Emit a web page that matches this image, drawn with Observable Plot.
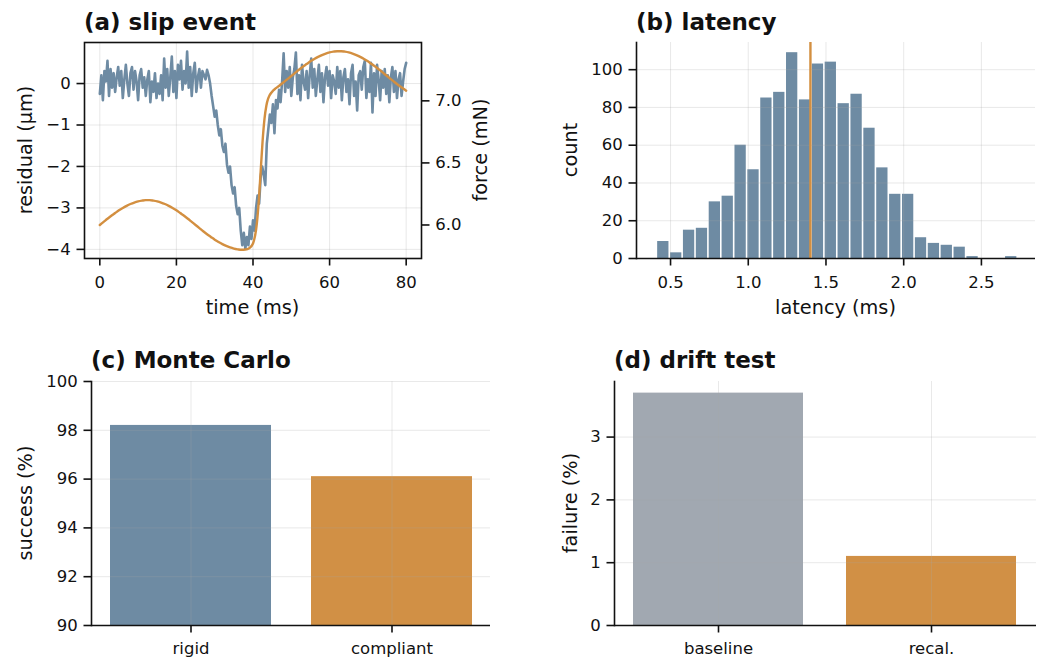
<!DOCTYPE html>
<html><head><meta charset="utf-8">
<script src="https://cdn.jsdelivr.net/npm/d3@7"></script>
<script src="https://cdn.jsdelivr.net/npm/@observablehq/plot@0.6"></script>
<style>
html,body{margin:0;padding:0;background:#fff;}
#fig{position:relative;width:1044px;height:657px;overflow:hidden;font-family:"DejaVu Sans",sans-serif;}
#fig svg{position:absolute;overflow:visible;}
</style></head><body><div id="fig"></div>
<script>
// ---------- data ----------
// (a) slip event: residual sampled every 0.4 ms from 0 ms
const residualStartMs = 0;
const residualStepMs = 0.4;
const residualUm = [
 -0.25, 0.2, -0.4, 0.3, 0.05, 0.55, -0.3, 0.35, -0.1, 0.25,
 -0.2, 0.15, 0.4, -0.05, 0.3, -0.35, 0.1, 0.45, 0.0, -0.3,
 0.25, 0.4, -0.15, 0.3, 0.05, -0.4, 0.2, 0.35, -0.1, 0.15,
 -0.3, 0.1, 0.3, -0.45, 0.05, -0.2, 0.25, -0.35, 0.0, -0.25,
 0.2, -0.4, 0.6, -0.1, 0.35, -0.3, 0.15, 0.65, -0.2, 0.3,
 -0.35, 0.45, 0.1, 0.55, -0.15, 0.3, 0.0, 0.77, -0.1, 0.4,
 -0.3, 0.25, 0.5, -0.2, 0.15, 0.35, -0.1, 0.3, 0.2, 0.1,
 0.33, 0.2,
 0.0, -0.3, -0.55, -0.8, -0.65, -1.0, -1.25, -1.1, -1.5, -1.65,
 -1.45, -1.95, -2.15, -2.0, -2.45, -2.65, -2.5, -2.95, -3.15, -3.0,
 -3.55, -3.9, -3.6, -3.98, -3.7, -3.9, -3.45, -3.75, -3.3, -3.55,
 -3.0, -2.7, -2.9, -2.25, -2.0, -2.2, -2.45, -1.45, -1.1, -0.75,
 -0.95, -0.5, -1.2, -0.4, -0.6, -0.15, -0.45, 0.05,
 0.73, -0.2, 0.3, -0.1, 0.4, -0.3, 0.15, 0.35, 0.75, -0.25,
 0.2, -0.4, 0.45, 0.05, -0.15, 0.3, -0.35, 0.2, 0.6, -0.1,
 0.35, -0.3, 0.1, 0.45, -0.2, 0.25, -0.45, 0.15, 0.4, -0.05,
 0.3, -0.35, 0.2, 0.05, -0.25, 0.4, -0.1, 0.3, -0.4, 0.15,
 0.35, -0.2, 0.1, -0.5, 0.25, 0.45, -0.3, 0.05, -0.65, 0.2,
 0.3, -0.15, 0.4, 0.55, -0.35, 0.1, -0.2, 0.5, -0.7, 0.25,
 -0.3, 0.45, 0.1, -0.4, 0.3, -0.1, 0.35, -0.25, 0.2, -0.45,
 0.15, 0.4, -0.2, 0.3, -0.35, 0.1, 0.25, -0.3, 0.05, 0.35,
 0.5
];
const forceTimeMs = [
 0,1,2,3,4,5,6,7,8,9,10,11,12,13,14,15,16,17,18,19,20,
 21,22,23,24,25,26,27,28,29,30,31,32,33,34,35,36,37,38,39,40,
 41,41.5,42,42.5,43,43.5,44,
 45,46,47,48,49,50,51,52,53,54,55,56,57,58,59,60,61,62,
 63,64,65,66,67,68,69,70,71,72,73,74,75,76,77,78,79,80
];
const forceMN = [
 6.000,6.025,6.050,6.074,6.096,6.118,6.137,6.154,6.169,6.181,6.190,
 6.196,6.200,6.200,6.196,6.190,6.181,6.169,6.154,6.137,6.118,
 6.096,6.074,6.050,6.025,6.000,5.975,5.950,5.926,5.904,5.882,
 5.863,5.846,5.831,5.819,5.810,5.804,5.800,5.802,5.812,5.851,
 6.010,6.189,6.431,6.674,6.855,6.963,7.022,
 7.074,7.102,7.126,7.150,7.175,7.200,7.225,7.250,7.274,7.296,7.318,
 7.337,7.354,7.369,7.381,7.390,7.396,7.400,
 7.400,7.396,7.390,7.381,7.369,7.354,7.337,7.318,7.296,7.274,7.250,
 7.225,7.200,7.175,7.150,7.126,7.104,7.082
];
const timeTicks = [0, 20, 40, 60, 80];
const residualTicks = [-4, -3, -2, -1, 0];
const forceTicks = [6.0, 6.5, 7.0];

// (b) latency histogram
const latencyBinStart = 0.412;
const latencyBinWidth = 0.0829;
const latencyCounts = [9,3,15,16,30,33,60,47,85,88,109,84,103,104,82,87,69,48,34,34,11,8,7,6,1,0,0,1];
const latencyMedian = 1.40;
const latencyTicks = [0.5, 1.0, 1.5, 2.0, 2.5];
const countTicks = [0, 20, 40, 60, 80, 100];

// (c) Monte Carlo
const mcCategories = ["rigid", "compliant"];
const mcSuccess = [98.2, 96.1];
const successTicks = [90, 92, 94, 96, 98, 100];

// (d) drift test
const driftCategories = ["baseline", "recal."];
const driftFailure = [3.7, 1.1];
const failureTicks = [0, 1, 2, 3];

// ---------- styles ----------
const SLATE = "#6e8ba3", ORANGE = "#d19045", LINE_ORANGE = "#d38f40", GRAY = "#a1a8b1";
const INK = "#111";
const baseStyle = {fontFamily: "'DejaVu Sans', sans-serif", fontSize: "16.5px", color: INK, background: "transparent", overflow: "visible"};
const grid = {stroke: "#a8a8a8", strokeOpacity: 0.25, strokeWidth: 1};
const axX = {tickSize: 7.5, tickPadding: 10.5, strokeWidth: 1.6, label: null};
const axXcat = {tickSize: 7.5, tickPadding: 9.5, strokeWidth: 1.6, label: null};
const axY = {tickSize: 7.5, tickPadding: 6.3, strokeWidth: 1.6, label: null};
const spine = {stroke: INK, strokeWidth: 1.6};
const intFmt = d3.format("~g");

const fig = document.getElementById("fig");
function place(svg, left, top) { svg.style.left = left + "px"; svg.style.top = top + "px"; fig.appendChild(svg); }

// ---------- (a) ----------
const residualRows = residualUm.map((v, i) => ({t: residualStartMs + i * residualStepMs, v}));
const forceRows = forceTimeMs.map((t, i) => ({t, f: forceMN[i]}));
const dimsA = {width: 522, height: 330, marginLeft: 84, marginRight: 101, marginTop: 42, marginBottom: 72};
place(Plot.plot({
  ...dimsA, style: baseStyle,
  x: {domain: [-4, 84]}, y: {domain: [-4.22, 0.99]},
  marks: [
    Plot.gridX({ticks: timeTicks, ...grid}),
    Plot.gridY({ticks: residualTicks, ...grid}),
    Plot.line(residualRows, {x: "t", y: "v", stroke: SLATE, strokeWidth: 2.6, strokeLinejoin: "round"}),
    Plot.axisX({ticks: timeTicks, tickFormat: intFmt, ...axX}),
    Plot.axisY({ticks: residualTicks, tickFormat: intFmt, ...axY})
  ]
}), 0, 0);
place(Plot.plot({
  ...dimsA, style: baseStyle,
  x: {domain: [-4, 84], axis: null}, y: {domain: [5.73, 7.47]},
  marks: [
    Plot.line(forceRows, {x: "t", y: "f", stroke: LINE_ORANGE, strokeWidth: 2.4, curve: "monotone-x"}),
    Plot.axisY({ticks: forceTicks, anchor: "right", tickFormat: ".1f", ...axY}),
    Plot.frame(spine)
  ]
}), 0, 0);

// ---------- (b) ----------
const latencyBins = latencyCounts.map((c, i) => ({
  x1: latencyBinStart + i * latencyBinWidth,
  x2: latencyBinStart + (i + 1) * latencyBinWidth,
  count: c
}));
place(Plot.plot({
  width: 522, height: 330, marginLeft: 114, marginRight: 9, marginTop: 42, marginBottom: 72,
  style: baseStyle,
  x: {domain: [0.281, 2.848]}, y: {domain: [0, 114.4]},
  marks: [
    Plot.rectY(latencyBins, {x1: "x1", x2: "x2", y: "count", fill: SLATE, insetLeft: 0.8, insetRight: 0.8}),
    Plot.gridX({ticks: latencyTicks, ...grid}),
    Plot.gridY({ticks: countTicks, ...grid}),
    Plot.ruleX([latencyMedian], {stroke: LINE_ORANGE, strokeWidth: 2.4}),
    Plot.axisX({ticks: latencyTicks, tickFormat: ".1f", ...axX}),
    Plot.axisY({ticks: countTicks, tickFormat: intFmt, ...axY}),
    Plot.frame({anchor: "left", ...spine}),
    Plot.ruleY([0], spine)
  ]
}), 522, 0);

// ---------- (c) ----------
const mcRows = mcCategories.map((name, i) => ({name, v: mcSuccess[i]}));
place(Plot.plot({
  width: 522, height: 327, marginLeft: 91, marginRight: 32, marginTop: 51, marginBottom: 32,
  style: baseStyle,
  x: {domain: mcCategories, paddingInner: 0.2, paddingOuter: 0.09},
  y: {domain: [90, 100]},
  color: {domain: mcCategories, range: [SLATE, ORANGE]},
  marks: [
    Plot.barY(mcRows, {x: "name", y: "v", fill: "name", clip: true}),
    Plot.gridX({...grid}),
    Plot.gridY({ticks: successTicks, ...grid}),
    Plot.axisX({...axXcat}),
    Plot.axisY({ticks: successTicks, tickFormat: intFmt, ...axY}),
    Plot.frame({anchor: "left", ...spine}),
    Plot.ruleY([90], spine)
  ]
}), 0, 330);

// ---------- (d) ----------
const driftRows = driftCategories.map((name, i) => ({name, v: driftFailure[i]}));
place(Plot.plot({
  width: 522, height: 327, marginLeft: 92, marginRight: 8, marginTop: 51, marginBottom: 32,
  style: baseStyle,
  x: {domain: driftCategories, paddingInner: 0.2, paddingOuter: 0.09},
  y: {domain: [0, 3.885]},
  color: {domain: driftCategories, range: [GRAY, ORANGE]},
  marks: [
    Plot.barY(driftRows, {x: "name", y: "v", fill: "name"}),
    Plot.gridX({...grid}),
    Plot.gridY({ticks: failureTicks, ...grid}),
    Plot.axisX({...axXcat}),
    Plot.axisY({ticks: failureTicks, tickFormat: intFmt, ...axY}),
    Plot.frame({anchor: "left", ...spine}),
    Plot.ruleY([0], spine)
  ]
}), 522, 330);

// ---------- titles and axis labels ----------
const txt = d3.create("svg").attr("width", 1044).attr("height", 657)
  .style("left", "0px").style("top", "0px").style("pointer-events", "none")
  .attr("font-family", "'DejaVu Sans', sans-serif").attr("fill", INK);
const titles = [["(a) slip event", 84, 29.8], ["(b) latency", 636, 29.8], ["(c) Monte Carlo", 91, 367.6], ["(d) drift test", 614, 367.6]];
for (const [s, x, y] of titles) txt.append("text").attr("x", x).attr("y", y).attr("font-size", 23).attr("font-weight", "bold").text(s);
const xLabels = [["time (ms)", 252.5, 313.5], ["latency (ms)", 835.5, 314]];
for (const [s, x, y] of xLabels) txt.append("text").attr("x", x).attr("y", y).attr("font-size", 19.3).attr("text-anchor", "middle").text(s);
const yLabels = [["residual (µm)", 31.5, 150], ["force (mN)", 487, 150], ["count", 577, 150], ["success (%)", 31.5, 503], ["failure (%)", 576.5, 503]];
for (const [s, x, y] of yLabels) txt.append("text").attr("transform", `translate(${x},${y}) rotate(-90)`).attr("font-size", 19.3).attr("text-anchor", "middle").text(s);
fig.appendChild(txt.node());
</script></body></html>
